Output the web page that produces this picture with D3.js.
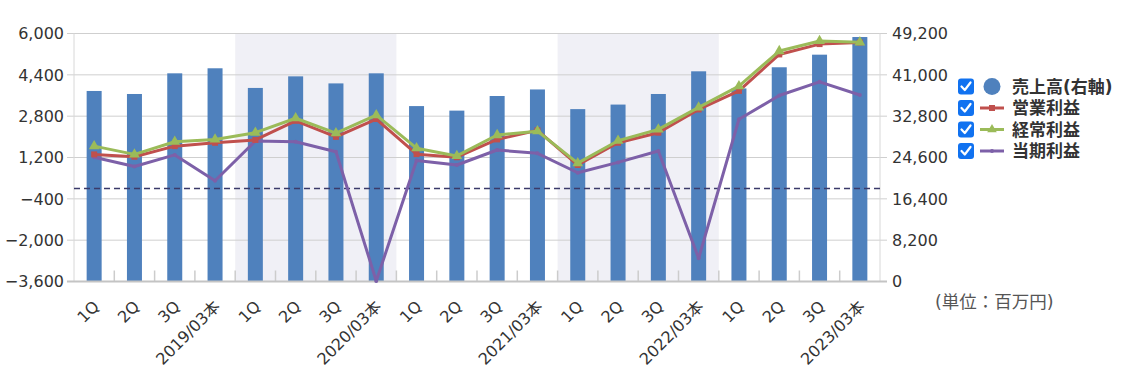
<!DOCTYPE html>
<html><head><meta charset="utf-8">
<script src="https://cdn.jsdelivr.net/npm/d3@7"></script>
<style>
body{margin:0;background:#fff;}
text{font-family:"DejaVu Sans","Noto Sans CJK JP",sans-serif;}
</style></head>
<body><svg id="c" width="1126" height="379"></svg>
<script>
const categories = ["1Q","2Q","3Q","2019/03本","1Q","2Q","3Q","2020/03本","1Q","2Q","3Q","2021/03本","1Q","2Q","3Q","2022/03本","1Q","2Q","3Q","2023/03本"];
const sales = [37800,37200,41300,42300,38400,40700,39300,41300,34800,33900,36800,38100,34200,35100,37200,41700,38300,42500,45000,48500];
const opProfit = [1320,1230,1640,1770,1880,2620,2000,2690,1330,1210,1900,2250,910,1770,2160,3060,3780,5190,5590,5650];
const ordProfit = [1640,1320,1810,1900,2160,2720,2140,2840,1560,1260,2070,2220,980,1850,2290,3140,3960,5320,5710,5660];
const netProfit = [1210,850,1300,300,1840,1810,1420,-3580,1080,910,1490,1360,610,1010,1450,-2700,2680,3600,4130,3620];
const leftTicks = [-3600,-2000,-400,1200,2800,4400,6000];
const rightTicks = [0,8200,16400,24600,32800,41000,49200];
const shadedYears = [1,3];
const legendItems = ["売上高(右軸)","営業利益","経常利益","当期利益"];
const colors = {sales:"#4f81bd", op:"#c0504d", ord:"#9bbb59", net:"#7d60a8"};

const svg = d3.select("#c");
const L = 74, R = 880, T = 33.5, B = 281.5;
const x = d3.scaleBand().domain(d3.range(categories.length)).range([L, R]).padding(0);
const yL = d3.scaleLinear().domain([-3600, 6000]).range([B, T]);
const yR = d3.scaleLinear().domain([0, 49200]).range([B, T]);
const cx = i => x(i) + x.bandwidth()/2;

// shaded bands
shadedYears.forEach(yi => {
  svg.append("rect").attr("x", x(yi*4)).attr("y", T).attr("width", x.bandwidth()*4).attr("height", B-T).attr("fill", "#f0f0f6");
});

// gridlines
svg.append("g").selectAll("line").data(leftTicks).join("line")
  .attr("x1", L-7).attr("x2", R+7).attr("y1", d=>yL(d)).attr("y2", d=>yL(d))
  .attr("stroke", "#cfcfcf").attr("stroke-width", 1);
// borders
svg.append("line").attr("x1",L).attr("x2",L).attr("y1",T).attr("y2",B).attr("stroke","#d8d8d8");
svg.append("line").attr("x1",R).attr("x2",R).attr("y1",T).attr("y2",B).attr("stroke","#d8d8d8");

// bars
const bw = 15;
svg.append("g").selectAll("rect").data(sales).join("rect")
  .attr("x", (d,i)=>cx(i)-bw/2).attr("width", bw)
  .attr("y", d=>yR(d)).attr("height", d=>B-yR(d)).attr("fill", colors.sales);

// category ticks
svg.append("g").selectAll("line").data(d3.range(1, categories.length)).join("line")
  .attr("x1", i=>x(i)).attr("x2", i=>x(i)).attr("y1", B-11).attr("y2", B)
  .attr("stroke", "#cccccc").attr("stroke-width", 1.5);
// bottom axis line
svg.append("line").attr("x1",L-7).attr("x2",R+7).attr("y1",B).attr("y2",B).attr("stroke","#c4c4c4").attr("stroke-width",2);

// zero dashed line
svg.append("line").attr("x1",L).attr("x2",R).attr("y1",yL(0)).attr("y2",yL(0))
  .attr("stroke","#3a3a6a").attr("stroke-width",1.5).attr("stroke-dasharray","6,4");

// lines
const line = d3.line().x((d,i)=>cx(i)).y(d=>yL(d));
function drawSeries(data, color, marker){
  svg.append("path").datum(data).attr("d", line).attr("fill","none").attr("stroke",color).attr("stroke-width",3).attr("stroke-linejoin","round");
  const g = svg.append("g");
  data.forEach((d,i)=>{
    const px = cx(i), py = yL(d);
    if(marker==="square") g.append("rect").attr("x",px-3).attr("y",py-3).attr("width",6).attr("height",6).attr("fill",color);
    else if(marker==="triangle") g.append("path").attr("d", d3.symbol(d3.symbolTriangle, 50)()).attr("transform",`translate(${px},${py})`).attr("fill",color);
    else g.append("circle").attr("cx",px).attr("cy",py).attr("r",2).attr("fill",color);
  });
}
drawSeries(netProfit, colors.net, "dot");
drawSeries(opProfit, colors.op, "square");
drawSeries(ordProfit, colors.ord, "triangle");

// axis labels
svg.append("g").selectAll("text").data(leftTicks).join("text")
  .attr("x", 64).attr("y", d=>yL(d)).attr("dy","0.36em").attr("text-anchor","end")
  .attr("font-size",16).attr("fill","#333").text(d=>d3.format(",")(d));
svg.append("g").selectAll("text").data(rightTicks).join("text")
  .attr("x", 892).attr("y", d=>yR(d)).attr("dy","0.36em").attr("text-anchor","start")
  .attr("font-size",16).attr("fill","#333").text(d=>d3.format(",")(d));
svg.append("g").selectAll("text").data(categories).join("text")
  .attr("transform",(d,i)=>`translate(${cx(i)-2},${B+18}) rotate(-45)`)
  .attr("text-anchor","end").attr("dy","0.71em").attr("font-size",16).attr("fill","#333").text(d=>d);

// unit
svg.append("text").attr("x",935).attr("y",308).attr("font-size",17.5).attr("fill","#555")
  .attr("font-family","Noto Sans CJK JP").text("(単位：百万円)");

// legend
const lg = svg.append("g");
legendItems.forEach((t,i)=>{
  const yy = 86.5 + i*21.5;
  lg.append("rect").attr("x",958).attr("y",yy-8).attr("width",16).attr("height",16).attr("rx",3).attr("fill","#1172f0");
  lg.append("path").attr("d",`M${961.5},${yy} L${964.8},${yy+3.5} L${970.5},${yy-4}`).attr("fill","none").attr("stroke","#fff").attr("stroke-width",2.2).attr("stroke-linecap","round").attr("stroke-linejoin","round");
  if(i===0){
    lg.append("circle").attr("cx",992).attr("cy",yy).attr("r",8.5).attr("fill",colors.sales);
  } else {
    const col = [null, colors.op, colors.ord, colors.net][i];
    lg.append("line").attr("x1",980).attr("x2",1004).attr("y1",yy).attr("y2",yy).attr("stroke",col).attr("stroke-width",3);
    if(i===1) lg.append("rect").attr("x",989).attr("y",yy-3).attr("width",6).attr("height",6).attr("fill",col);
    if(i===2) lg.append("path").attr("d",d3.symbol(d3.symbolTriangle,40)()).attr("transform",`translate(992,${yy})`).attr("fill",col);
    if(i===3) lg.append("circle").attr("cx",992).attr("cy",yy).attr("r",2).attr("fill",col);
  }
  lg.append("text").attr("x",1012).attr("y",yy).attr("dy","0.36em").attr("font-size",17).attr("font-weight","bold")
    .attr("font-family","Noto Sans CJK JP").attr("fill","#333").text(t);
});
</script></body></html>
